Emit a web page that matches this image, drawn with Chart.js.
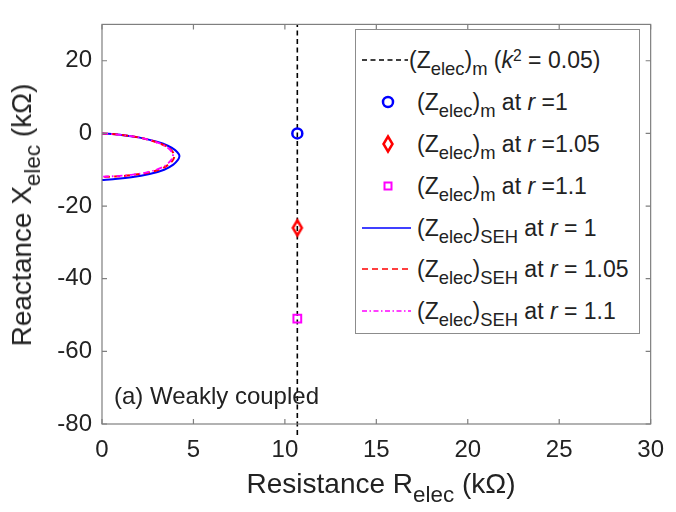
<!DOCTYPE html>
<html>
<head>
<meta charset="utf-8">
<script src="https://cdn.jsdelivr.net/npm/chart.js@4.4.1/dist/chart.umd.min.js"></script>
<style>
  body { margin: 0; background: #fff; font-family: "Liberation Sans", Arial, sans-serif; color: #222; }
  #wrap { position: relative; width: 676px; height: 512px; overflow: hidden; }
  #chart { position: absolute; left: 0; top: 0; }
  .sub { position: relative; top: 0.38em; font-size: 0.8em; }
  .sup { position: relative; top: -0.45em; font-size: 0.68em; }
  .title { position: absolute; white-space: nowrap; font-size: 28px; line-height: 1; transform: translate(-50%, -50%); }
  #ytitle { transform: translate(-50%, -50%) rotate(-90deg); }
  #note { position: absolute; left: 114px; top: 384px; font-size: 24px; line-height: 1; white-space: nowrap; }
  #legend { position: absolute; left: 355px; top: 29px; width: 283px; height: 303px; border: 1px solid #8c8c8c; background: #fff; }
  .row { position: absolute; left: 0; width: 100%; height: 30px; }
  .row svg { position: absolute; left: 0; top: 0; }
  .lbl { position: absolute; left: 61px; top: 0; font-size: 23px; line-height: 30px; white-space: nowrap; }
</style>
</head>
<body>
<div id="wrap">
  <canvas id="chart" width="676" height="512"></canvas>

  <div class="title" id="xtitle" style="left:381px; top:484px">Resistance R<span class="sub">elec</span> (kΩ)</div>
  <div class="title" id="ytitle" style="left:22px; top:215px">Reactance X<span class="sub">elec</span> (kΩ)</div>
  <div id="note">(a) Weakly coupled</div>

  <div id="legend"></div>
</div>

<script>
// axes
const xTicks = [0, 5, 10, 15, 20, 25, 30];
const yTicks = [-80, -60, -40, -20, 0, 20];

// dashed line (Zelec)m for k^2 = 0.05
const kLineR = [10.68, 10.68];
const kLineX = [-83, 30];

// measured points (Zelec)m at r = 1, 1.05, 1.1
const measR = [10.68, 10.68, 10.68];
const measX = [0, -26, -51];

// (Zelec)SEH curves
const sehR1 = [0, 1, 2, 3, 3.6, 4.0, 4.2, 4.23, 4.15, 3.9, 3.4, 2.6, 1.6, 0.6, 0];
const sehX1 = [0, -0.4, -1.1, -2.3, -3.4, -4.6, -5.7, -6.4, -7.3, -8.6, -10.0, -11.2, -12.1, -12.6, -12.8];

const sehR105 = [0, 1, 2, 2.9, 3.45, 3.8, 3.95, 3.9, 3.7, 3.3, 2.6, 1.6, 0.6, 0];
const sehX105 = [0, -0.4, -1.1, -2.3, -3.4, -4.7, -6.1, -7.1, -8.3, -9.6, -10.7, -11.5, -11.9, -12.0];

const sehR11 = [0, 1, 2, 2.9, 3.42, 3.75, 3.88, 3.83, 3.62, 3.22, 2.55, 1.6, 0.6, 0];
const sehX11 = [0, -0.4, -1.1, -2.3, -3.4, -4.7, -6.0, -7.0, -8.2, -9.5, -10.6, -11.4, -11.8, -11.9];

function pts(xs, ys) {
  return xs.map((v, i) => ({ x: v, y: ys[i] }));
}

// tall diamond like the matlab one
function diamond(color) {
  const c = document.createElement('canvas');
  c.width = 14; c.height = 20;
  const g = c.getContext('2d');
  g.strokeStyle = color;
  g.lineWidth = 2.5;
  g.beginPath();
  g.moveTo(7, 2.5); g.lineTo(11.5, 10); g.lineTo(7, 17.5); g.lineTo(2.5, 10);
  g.closePath();
  g.stroke();
  return c;
}

// box + inward ticks on all four sides
const frame = {
  id: 'frame',
  afterDatasetsDraw(chart) {
    const { ctx, chartArea: a, scales } = chart;
    ctx.save();
    ctx.strokeStyle = '#7f7f7f';
    ctx.lineWidth = 1.2;
    ctx.strokeRect(a.left, a.top, a.right - a.left, a.bottom - a.top);
    ctx.beginPath();
    xTicks.forEach(v => {
      const p = scales.x.getPixelForValue(v);
      ctx.moveTo(p, a.bottom); ctx.lineTo(p, a.bottom - 5);
      ctx.moveTo(p, a.top); ctx.lineTo(p, a.top + 5);
    });
    yTicks.forEach(v => {
      const p = scales.y.getPixelForValue(v);
      ctx.moveTo(a.left, p); ctx.lineTo(a.left + 5, p);
      ctx.moveTo(a.right, p); ctx.lineTo(a.right - 5, p);
    });
    ctx.stroke();
    ctx.restore();
  }
};

const tickFont = { family: '"Liberation Sans", Arial, sans-serif', size: 24 };

new Chart(document.getElementById('chart'), {
  type: 'scatter',
  data: {
    datasets: [
      { data: pts(kLineR, kLineX), showLine: true, borderColor: '#000', borderWidth: 1.6,
        borderDash: [5, 3.5], pointRadius: 0, clip: false, order: 5 },
      { data: pts(measR.slice(0, 1), measX.slice(0, 1)), pointStyle: 'circle', pointRadius: 5,
        borderColor: '#0000ff', backgroundColor: 'transparent', borderWidth: 2.5, order: 1 },
      { data: pts(measR.slice(1, 2), measX.slice(1, 2)), pointStyle: diamond('#ff0000'), order: 1 },
      { data: pts(measR.slice(2, 3), measX.slice(2, 3)), pointStyle: 'rect', pointRadius: 5.5,
        borderColor: '#ff00ff', backgroundColor: 'transparent', borderWidth: 2, order: 1 },
      { data: pts(sehR1, sehX1), showLine: true, borderColor: '#0000ff', borderWidth: 2,
        tension: 0.4, pointRadius: 0, order: 4 },
      { data: pts(sehR105, sehX105), showLine: true, borderColor: '#ff0000', borderWidth: 2,
        borderDash: [6, 4], tension: 0.4, pointRadius: 0, order: 3 },
      { data: pts(sehR11, sehX11), showLine: true, borderColor: '#ff00ff', borderWidth: 1.8,
        borderDash: [6, 3, 1.5, 3], tension: 0.4, pointRadius: 0, order: 2 }
    ]
  },
  options: {
    responsive: false,
    animation: false,
    events: [],
    layout: { padding: { top: 12, right: 20, left: 0, bottom: 0 } },
    plugins: { legend: { display: false }, tooltip: { enabled: false } },
    scales: {
      x: {
        type: 'linear', min: 0, max: 30,
        grid: { display: false, drawTicks: false },
        border: { display: false },
        ticks: { stepSize: 5, font: tickFont, color: '#222', padding: 12, maxRotation: 0 },
        afterBuildTicks: s => { s.ticks = xTicks.map(v => ({ value: v })); },
        afterFit: s => { s.height = 88; }
      },
      y: {
        type: 'linear', min: -80, max: 30,
        grid: { display: false, drawTicks: false },
        border: { display: false },
        ticks: { font: tickFont, color: '#222', padding: 10 },
        afterBuildTicks: s => { s.ticks = yTicks.map(v => ({ value: v })); },
        afterFit: s => { s.width = 102; }
      }
    }
  },
  plugins: [frame]
});

// legend (html so the sub/superscripts stay real text)
const Z = '(Z<span class="sub">elec</span>)';
const legendRows = [
  { top: 15, lbl: Z + '<span class="sub">m</span> (<i>k</i><span class="sup">2</span> = 0.05)', left: 53,
    svg: '<line x1="6" y1="15" x2="52" y2="15" stroke="#000" stroke-width="1.6" stroke-dasharray="5 3.5"/>' },
  { top: 57, lbl: Z + '<span class="sub">m</span> at <i>r</i> =1',
    svg: '<circle cx="32" cy="15" r="5" fill="none" stroke="#0000ff" stroke-width="2.5"/>' },
  { top: 99, lbl: Z + '<span class="sub">m</span> at <i>r</i> =1.05',
    svg: '<polygon points="32,7.5 36.5,15 32,22.5 27.5,15" fill="none" stroke="#ff0000" stroke-width="2.5"/>' },
  { top: 141, lbl: Z + '<span class="sub">m</span> at <i>r</i> =1.1',
    svg: '<rect x="28.5" y="11.5" width="7" height="7" fill="none" stroke="#ff00ff" stroke-width="2"/>' },
  { top: 183, lbl: Z + '<span class="sub">SEH</span> at <i>r</i> = 1',
    svg: '<line x1="6" y1="15" x2="55" y2="15" stroke="#0000ff" stroke-width="1.6"/>' },
  { top: 224, lbl: Z + '<span class="sub">SEH</span> at <i>r</i> = 1.05',
    svg: '<line x1="6" y1="15" x2="55" y2="15" stroke="#ff0000" stroke-width="1.6" stroke-dasharray="6 4"/>' },
  { top: 266, lbl: Z + '<span class="sub">SEH</span> at <i>r</i> = 1.1',
    svg: '<line x1="6" y1="15" x2="55" y2="15" stroke="#ff00ff" stroke-width="1.6" stroke-dasharray="5 2.5 1.5 2.5"/>' }
];

const legend = document.getElementById('legend');
legendRows.forEach(r => {
  const row = document.createElement('div');
  row.className = 'row';
  row.style.top = r.top + 'px';
  row.innerHTML = '<svg width="60" height="30">' + r.svg + '</svg>' +
    '<span class="lbl" style="left:' + (r.left || 61) + 'px">' + r.lbl + '</span>';
  legend.appendChild(row);
});
</script>
</body>
</html>
